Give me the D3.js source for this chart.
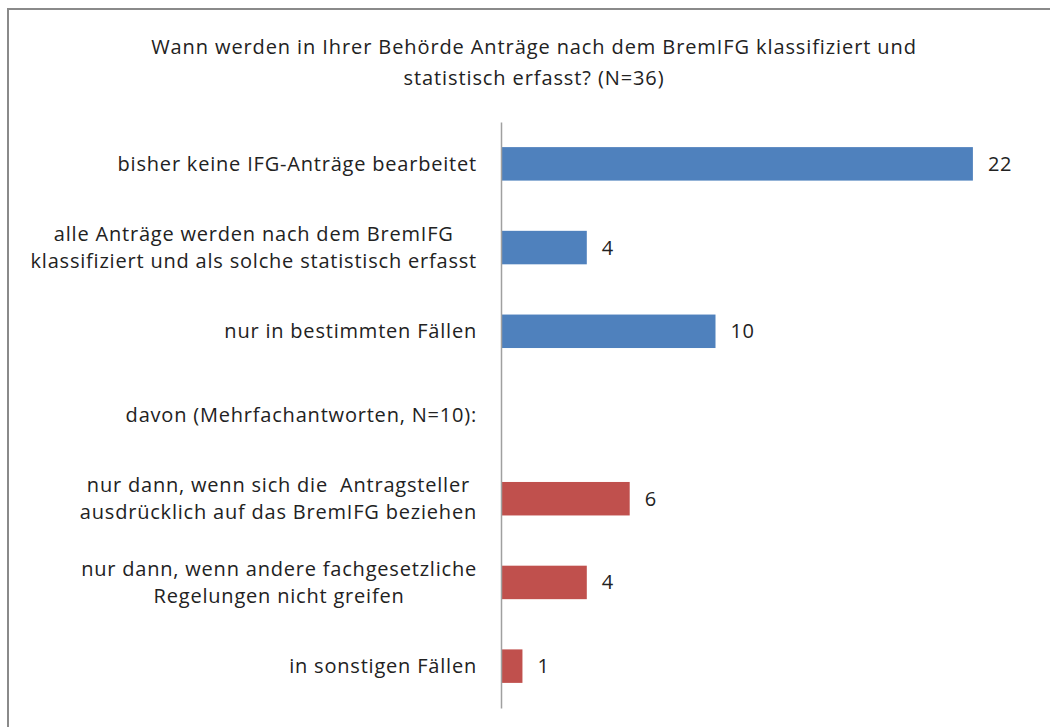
<!DOCTYPE html>
<html>
<head>
<meta charset="utf-8">
<script src="https://cdn.jsdelivr.net/npm/d3@7"></script>
<style>
  body { margin: 0; background: #fff; }
  text { font-family: "Open Sans", "Liberation Sans", Arial, sans-serif; fill: #222; }
</style>
</head>
<body>
<div id="chart"></div>
<script>
const svgWidth = 1050
const svgHeight = 727

const titleLines = [
  "Wann werden in Ihrer Behörde Anträge nach dem BremIFG klassifiziert und",
  "statistisch erfasst? (N=36)"
]
const categories = [
  ["bisher keine IFG-Anträge bearbeitet"],
  ["alle Anträge werden nach dem BremIFG", "klassifiziert und als solche statistisch erfasst"],
  ["nur in bestimmten Fällen"],
  ["davon (Mehrfachantworten, N=10):"],
  ["nur dann, wenn sich die  Antragsteller", "ausdrücklich auf das BremIFG beziehen"],
  ["nur dann, wenn andere fachgesetzliche", "Regelungen nicht greifen"],
  ["in sonstigen Fällen"]
]
const values = [22, 4, 10, null, 6, 4, 1]
const groups = ["main", "main", "main", null, "sub", "sub", "sub"]
const colors = { main: "#4f81bd", sub: "#c0504d" }

let svg = d3
  .select("#chart")
  .append("svg")
  .attr("width", svgWidth)
  .attr("height", svgHeight)

// frame of the chart area (cut off on right / bottom)
svg.append("rect")
  .attr("x", 8)
  .attr("y", 9)
  .attr("width", 1100)
  .attr("height", 800)
  .attr("fill", "none")
  .attr("stroke", "#8a8a8a")
  .attr("stroke-width", 2)

svg.append("text")
  .attr("text-anchor", "middle")
  .style("font-size", "20px")
  .style("letter-spacing", "0.9px")
  .selectAll("tspan")
  .data(titleLines)
  .enter()
  .append("tspan")
  .attr("x", 534)
  .attr("y", (d, i) => 54 + i * 31)
  .text(d => d)

let idx = d3.range(categories.length)

let yScale = d3.scaleBand()
  .domain(idx)
  .range([122, 708])
  .paddingInner(0.6)
  .paddingOuter(0.3)

let xScale = d3.scaleLinear()
  .domain([0, 25])
  .range([501, 501 + 25 * 21.45])

let rows = idx.filter(i => values[i] !== null)

svg.selectAll(".bar")
  .data(rows)
  .enter()
  .append("rect")
  .attr("class", "bar")
  .attr("x", xScale(0))
  .attr("y", i => yScale(i))
  .attr("width", i => xScale(values[i]) - xScale(0))
  .attr("height", yScale.bandwidth())
  .attr("fill", i => colors[groups[i]])

svg.selectAll(".val")
  .data(rows)
  .enter()
  .append("text")
  .attr("class", "val")
  .attr("x", i => xScale(values[i]) + 15)
  .attr("y", i => yScale(i) + yScale.bandwidth() / 2)
  .attr("dy", "0.35em")
  .style("font-size", "20px")
  .style("letter-spacing", "0.6px")
  .text(i => values[i])

// axis line, no ticks
let yAxis = svg.append("g")
  .attr("transform", `translate(${xScale(0)},0)`)
  .call(d3.axisLeft(yScale).tickSize(0).tickFormat(""))
yAxis.select(".domain").attr("stroke", "#a0a0a0").attr("stroke-width", 1.5)

// category labels, block right-aligned, lines centred in the block
let labelRight = 477
let lineGap = 27
idx.forEach(i => {
  let lines = categories[i]
  let cy = yScale(i) + yScale.bandwidth() / 2
  let t = svg.append("text")
    .attr("text-anchor", "middle")
    .style("font-size", "20px")
    .style("letter-spacing", "0.8px")
    .style("white-space", "pre")
  let spans = t.selectAll("tspan")
    .data(lines)
    .enter()
    .append("tspan")
    .attr("y", (d, j) => cy + (j - (lines.length - 1) / 2) * lineGap)
    .attr("dy", "0.35em")
    .text(d => d)
  let maxW = d3.max(spans.nodes(), n => n.getComputedTextLength())
  spans.attr("x", labelRight - maxW / 2)
})
</script>
</body>
</html>
